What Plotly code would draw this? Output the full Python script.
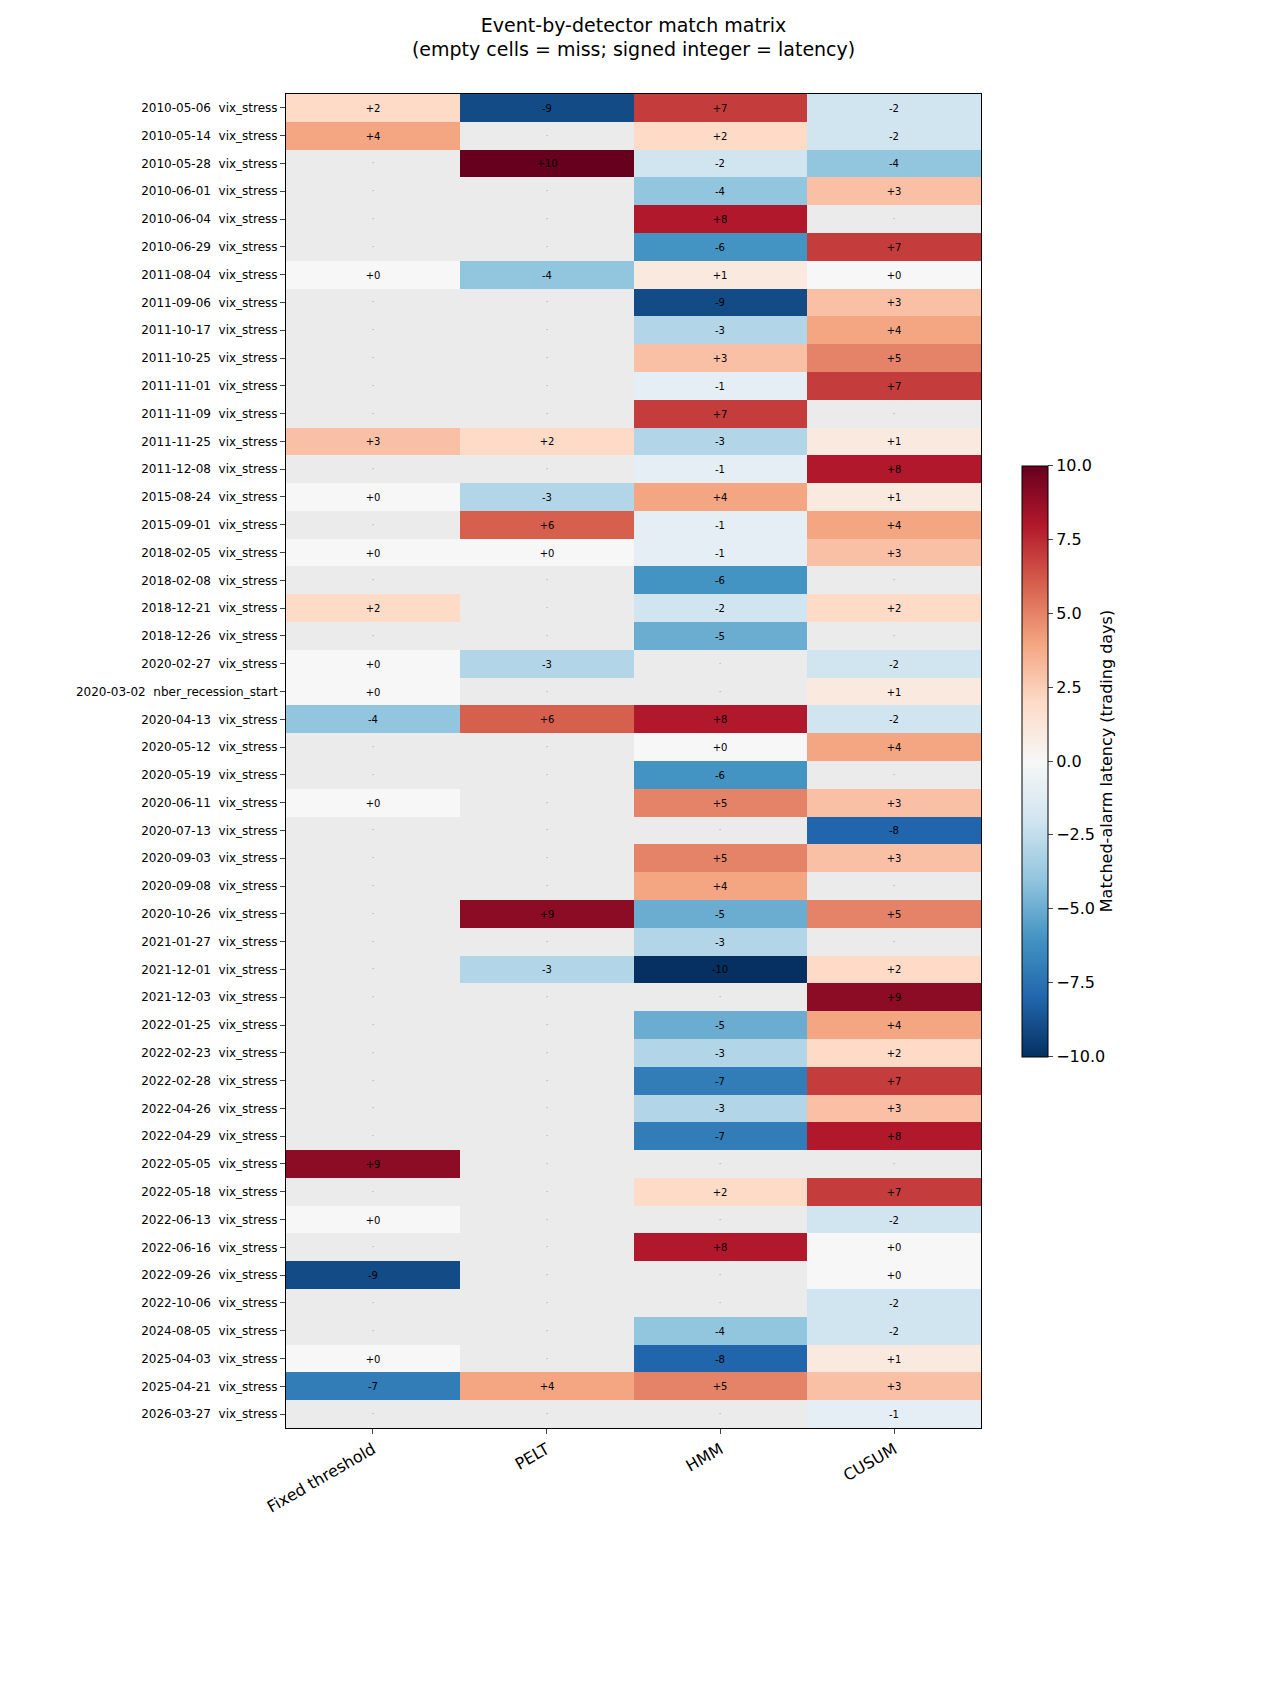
import plotly.graph_objects as go

# event rows, top to bottom
dates = ["2010-05-06", "2010-05-14", "2010-05-28", "2010-06-01", "2010-06-04", "2010-06-29",
         "2011-08-04", "2011-09-06", "2011-10-17", "2011-10-25", "2011-11-01", "2011-11-09",
         "2011-11-25", "2011-12-08", "2015-08-24", "2015-09-01", "2018-02-05", "2018-02-08",
         "2018-12-21", "2018-12-26", "2020-02-27", "2020-03-02", "2020-04-13", "2020-05-12",
         "2020-05-19", "2020-06-11", "2020-07-13", "2020-09-03", "2020-09-08", "2020-10-26",
         "2021-01-27", "2021-12-01", "2021-12-03", "2022-01-25", "2022-02-23", "2022-02-28",
         "2022-04-26", "2022-04-29", "2022-05-05", "2022-05-18", "2022-06-13", "2022-06-16",
         "2022-09-26", "2022-10-06", "2024-08-05", "2025-04-03", "2025-04-21", "2026-03-27"]
kinds = ["vix_stress"] * 21 + ["nber_recession_start"] + ["vix_stress"] * 26
detectors = ["Fixed threshold", "PELT", "HMM", "CUSUM"]

N = None
fixed = [2, 4, N, N, N, N, 0, N, N, N, N, N, 3, N, 0, N, 0, N, 2, N, 0, 0, -4, N,
         N, 0, N, N, N, N, N, N, N, N, N, N, N, N, 9, N, 0, N, -9, N, N, 0, -7, N]
pelt = [-9, N, 10, N, N, N, -4, N, N, N, N, N, 2, N, -3, 6, 0, N, N, N, -3, N, 6, N,
        N, N, N, N, N, 9, N, -3, N, N, N, N, N, N, N, N, N, N, N, N, N, N, 4, N]
hmm = [7, 2, -2, -4, 8, -6, 1, -9, -3, 3, -1, 7, -3, -1, 4, -1, -1, -6, -2, -5, N, N, 8, 0,
       -6, 5, N, 5, 4, -5, -3, -10, N, -5, -3, -7, -3, -7, N, 2, N, 8, N, N, -4, -8, 5, N]
cusum = [-2, -2, -4, 3, N, 7, 0, 3, 4, 5, 7, N, 1, 8, 1, 4, 3, N, 2, N, -2, 1, -2, 4,
         N, 3, -8, 3, N, 5, N, 2, 9, 4, 2, 7, 3, 8, N, 7, -2, 0, 0, -2, -2, 1, 3, -1]

labels = [f"{d}  {k}" for d, k in zip(dates, kinds)]
cols = [fixed, pelt, hmm, cusum]
z = [[cols[j][i] for j in range(4)] for i in range(len(dates))]
txt = [[("" if v is None else f"{v:+d}") for v in row] for row in z]
miss = [[(1 if v is None else None) for v in row] for row in z]
miss_txt = [["·" if v is None else "" for v in row] for row in z]

rdbu = ["#053061", "#2166ac", "#4393c3", "#92c5de", "#d1e5f0", "#f7f7f7",
        "#fddbc7", "#f4a582", "#d6604d", "#b2182b", "#67001f"]
scale = [[i / 10, c] for i, c in enumerate(rdbu)]

fig = go.Figure()
fig.add_trace(go.Heatmap(z=miss, x=detectors, y=labels, text=miss_txt, texttemplate="%{text}",
                         textfont=dict(size=8, color="#999999"),
                         colorscale=[[0, "#ebebeb"], [1, "#ebebeb"]], showscale=False,
                         hoverinfo="skip"))
fig.add_trace(go.Heatmap(z=z, x=detectors, y=labels, text=txt, texttemplate="%{text}",
                         textfont=dict(size=10, color="black"),
                         colorscale=scale, zmin=-10, zmax=10,
                         colorbar=dict(x=1.045, xanchor="left", y=0.5, len=0.458,
                                       thickness=26, outlinewidth=1, outlinecolor="black",
                                       tickvals=[-10, -7.5, -5, -2.5, 0, 2.5, 5, 7.5, 10],
                                       ticktext=["−10.0", "−7.5", "−5.0", "−2.5", "0.0",
                                                 "2.5", "5.0", "7.5", "10.0"],
                                       ticks="outside", tickfont=dict(size=16),
                                       title=dict(text="Matched-alarm latency (trading days)",
                                                  side="right", font=dict(size=16)))))

fig.update_layout(
    plot_bgcolor="white", paper_bgcolor="white",
    font=dict(family="DejaVu Sans", color="black"),
    margin=dict(l=278, r=291, t=86, b=266),
    title=dict(text="Event-by-detector match matrix<br>(empty cells = miss; signed integer = latency)",
               x=(278 + 989) / 2 / 1280, xanchor="center", y=1 - 24 / 1702, yanchor="top",
               font=dict(size=19)),
)
fig.update_xaxes(showline=True, mirror=True, linecolor="black", ticks="outside",
                 tickangle=-30, tickfont=dict(size=16))
fig.update_yaxes(autorange="reversed", showline=True, mirror=True, linecolor="black",
                 ticks="outside", tickfont=dict(size=12))

fig.write_html("out.html")
